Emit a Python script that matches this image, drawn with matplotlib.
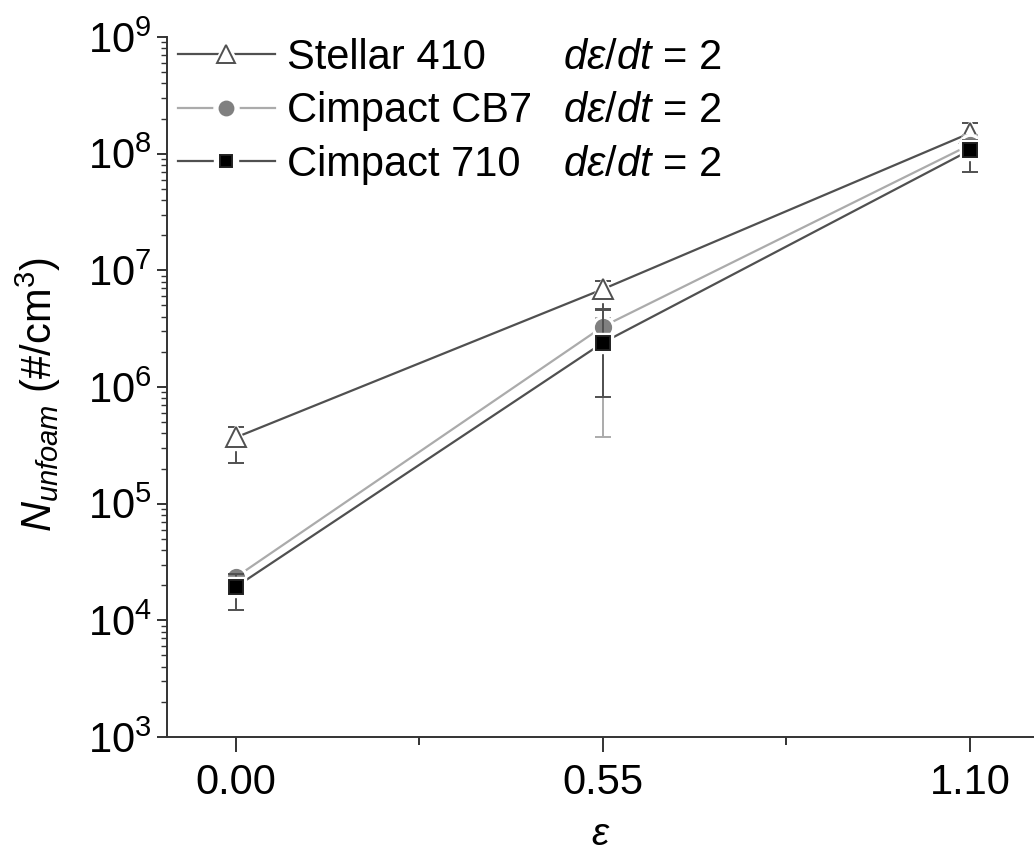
import matplotlib
matplotlib.use('Agg')
import matplotlib.pyplot as plt
from matplotlib.lines import Line2D
from matplotlib.legend_handler import HandlerTuple

plt.rcParams['font.family'] = ['Liberation Sans', 'DejaVu Sans']
plt.rcParams['mathtext.fontset'] = 'custom'
plt.rcParams['mathtext.rm'] = 'Liberation Sans'
plt.rcParams['mathtext.it'] = 'Liberation Sans:italic'

# strain and unfoamed bubble density (#/cm^3), with error bar limits
strain = [0.00, 0.55, 1.10]

stellar_y = [3.7e5, 6.9e6, 1.5e8]
stellar_lo = [2.25e5, 4.7e6, 1.15e8]
stellar_hi = [4.5e5, 8.1e6, 1.83e8]

cb7_y = [2.35e4, 3.3e6, 1.19e8]
cb7_lo = [2.1e4, 3.7e5, 9.0e7]
cb7_hi = [2.6e4, 3.9e6, 1.45e8]

c710_y = [1.94e4, 2.4e6, 1.07e8]
c710_lo = [1.23e4, 8.2e5, 7.0e7]
c710_hi = [2.5e4, 4.6e6, 1.3e8]

names = ['Stellar 410', 'Cimpact CB7', 'Cimpact 710']
rate_label = r'$d\varepsilon/dt$ = 2'

series = [
    # y, lo, hi, line colour, marker, face colour, edge colour, size
    (stellar_y, stellar_lo, stellar_hi, '#505050', '^', 'white', '#505050', 14),
    (cb7_y, cb7_lo, cb7_hi, '#ababab', 'o', '#808080', '#808080', 11),
    (c710_y, c710_lo, c710_hi, '#505050', 's', 'black', '#202020', 10),
]

FS = 30
W, H = 1034, 861

fig = plt.figure(figsize=(W / 100, H / 100), dpi=100)
ax = fig.add_axes([167 / W, 1 - 737 / H, 1 - 167 / W, 700 / H])

handles = []
for i, (y, lo, hi, lc, mk, fc, ec, ms) in enumerate(series):
    z = 2 + i
    yerr = [[v - l for v, l in zip(y, lo)], [h - v for v, h in zip(y, hi)]]
    ax.errorbar(strain, y, yerr=yerr, fmt='none', ecolor=lc, elinewidth=1.4,
                capsize=6, capthick=1.4, zorder=z)
    ax.plot(strain, y, '-', color=lc, lw=1.6, zorder=z)
    # white halo keeps the connecting line off the symbol
    ax.plot(strain, y, mk, ms=ms + 5, mfc='white', mec='white', ls='none', zorder=z)
    ax.plot(strain, y, mk, ms=ms, mfc=fc, mec=ec, mew=1.4, ls='none', zorder=z)

    h_line = Line2D([], [], color=lc, lw=1.6)
    h_halo = Line2D([], [], marker=mk, ms=ms + 7, mfc='white', mec='white', ls='none')
    h_mark = Line2D([], [], marker=mk, ms=ms - 1, mfc=fc, mec=ec, mew=1.4, ls='none')
    handles.append((h_line, h_halo, h_mark))

ax.set_yscale('log')
ax.set_ylim(1e3, 1e9)
ax.set_xlim(-0.1034, 1.196)
ax.set_xticks(strain)
ax.set_xticklabels(['0.00', '0.55', '1.10'])
ax.set_xticks([0.275, 0.825], minor=True)

for side in ('top', 'right'):
    ax.spines[side].set_visible(False)
for side in ('left', 'bottom'):
    ax.spines[side].set_linewidth(1.4)
    ax.spines[side].set_color('#333333')

ax.tick_params(axis='x', which='major', direction='out', length=11, width=1.4,
               labelsize=FS, pad=8, color='#333333')
ax.tick_params(axis='x', which='minor', direction='out', length=6, width=1.4,
               color='#333333')
ax.tick_params(axis='y', which='major', direction='out', length=7, width=1.4,
               labelsize=FS, pad=4, color='#333333')
ax.tick_params(axis='y', which='minor', direction='out', length=4, width=1.0,
               color='#333333')

ax.set_xlabel(r'$\varepsilon$', fontsize=28, labelpad=10)
ax.set_ylabel(r'$N_{unfoam}$ (#/cm$^{3}$)', fontsize=30)
ax.yaxis.set_label_coords(-0.12, 0.489)

leg = ax.legend(handles, names, handler_map={tuple: HandlerTuple(ndivide=1, pad=0)},
                loc='upper left', bbox_to_anchor=(0.0, 1.014), frameon=False,
                fontsize=FS, handlelength=2.33, handletextpad=0.29,
                labelspacing=0.32, borderaxespad=0.1, borderpad=0.16)

# second legend column: rate written at a fixed x, level with each entry
fig.canvas.draw()
for txt in leg.get_texts():
    bb = txt.get_window_extent()
    fig.text(563 / W, (bb.y0 + bb.y1) / 2 / H, rate_label, fontsize=FS,
             ha='left', va='center')

fig.savefig('out.png', dpi=100)
